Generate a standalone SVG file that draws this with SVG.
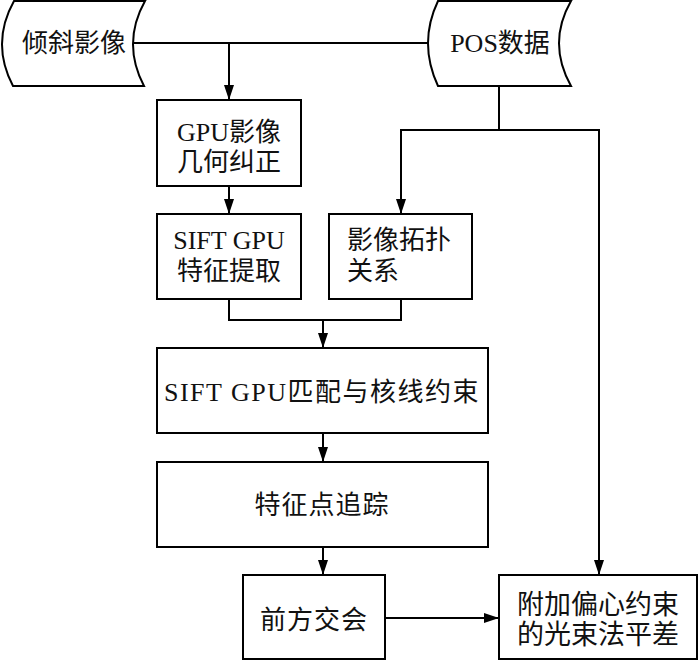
<svg xmlns="http://www.w3.org/2000/svg" width="700" height="661" viewBox="0 0 700 661">
<style>
.s{fill:#fff;stroke:#000;stroke-width:2}
.t{font-family:"Liberation Serif","Noto Sans CJK SC",serif;font-size:26px;fill:#111}
.c{text-anchor:middle}
.l{fill:none;stroke:#000;stroke-width:2}
</style>
<defs>
<marker id="a" viewBox="0 0 15 10" refX="15" refY="5" markerWidth="15" markerHeight="10" markerUnits="userSpaceOnUse" orient="auto">
<path d="M0,0 L15,5 L0,10 Z" fill="#000"/>
</marker>
</defs>
<rect width="700" height="661" fill="#fff"/>
<g id="connectors">
<path class="l" d="M133,43 H428"/>
<path class="l" d="M229,43 V100" marker-end="url(#a)"/>
<path class="l" d="M229,186 V214" marker-end="url(#a)"/>
<path class="l" d="M499,86 V130 H599 V575" marker-end="url(#a)"/>
<path class="l" d="M499,130 H401 V214" marker-end="url(#a)"/>
<path class="l" d="M229,299 V320 H401 V299"/>
<path class="l" d="M323,320 V348" marker-end="url(#a)"/>
<path class="l" d="M323,433 V462" marker-end="url(#a)"/>
<path class="l" d="M323,547 V575" marker-end="url(#a)"/>
<path class="l" d="M385,618 H499" marker-end="url(#a)"/>
</g>
<g id="n1">
<path class="s" d="M14,1 L145,1 Q121.5,43 144,86 L13,86 Q-9.5,43 14,1 Z"/>
<text class="t c" x="74" y="52">倾斜影像</text>
</g>
<g id="n2">
<path class="s" d="M438,1 L571,1 Q547,43 571,86 L438,86 Q418,43 438,1 Z"/>
<text class="t c" x="500" y="52">POS数据</text>
</g>
<g id="n3">
<rect class="s" x="157" y="100" width="144" height="86"/>
<text class="t c" x="229" y="141">GPU影像</text>
<text class="t c" x="229" y="171">几何纠正</text>
</g>
<g id="n4">
<rect class="s" x="157" y="214" width="144" height="85"/>
<text class="t c" x="229" y="249">SIFT GPU</text>
<text class="t c" x="229" y="280">特征提取</text>
</g>
<g id="n5">
<rect class="s" x="329" y="214" width="143" height="85"/>
<text class="t" x="347" y="249">影像拓扑</text>
<text class="t" x="347" y="280">关系</text>
</g>
<g id="n6">
<rect class="s" x="157" y="348" width="331" height="85"/>
<text class="t c" x="322" y="401" letter-spacing="1.5">SIFT GPU匹配与核线约束</text>
</g>
<g id="n7">
<rect class="s" x="157" y="462" width="331" height="85"/>
<text class="t c" x="322" y="514" letter-spacing="1">特征点追踪</text>
</g>
<g id="n8">
<rect class="s" x="243" y="575" width="142" height="84"/>
<text class="t c" x="314" y="629" letter-spacing="1">前方交会</text>
</g>
<g id="n9">
<rect class="s" x="499" y="575" width="198" height="84"/>
<text class="t" x="517" y="614" style="font-size:27px">附加偏心约束</text>
<text class="t" x="517" y="644" style="font-size:27px">的光束法平差</text>
</g>
</svg>
